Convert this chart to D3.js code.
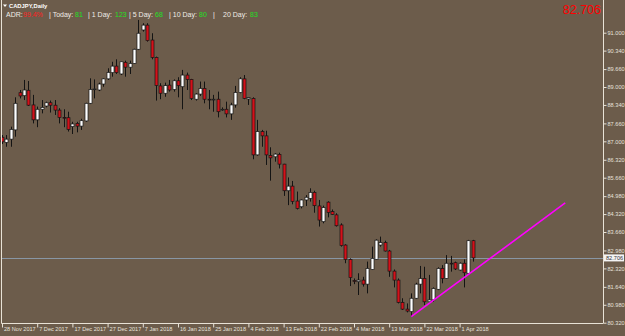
<!DOCTYPE html>
<html>
<head>
<meta charset="utf-8">
<script src="https://cdnjs.cloudflare.com/ajax/libs/d3/7.8.5/d3.min.js"></script>
<style>
  body { margin: 0; background: #6c5c4b; }
  svg { display: block; }
  .axis text { fill: #e6e2dc; font-family: "Liberation Sans", Arial, sans-serif; font-size: 5.6px; }
  .axis line, .axis path { stroke: #e8e2d6; }
</style>
</head>
<body>
<div></div>
<script>
// daily bars CADJPY
var opens = [87.15,86.96,87.08,87.42,88.79,88.68,88.88,88.34,87.79,88.18,88.30,88.42,88.33,88.15,87.88,87.87,87.54,87.66,87.56,87.75,
  88.40,88.91,88.89,89.11,89.30,89.53,89.77,89.48,89.91,89.73,89.87,90.39,91.10,91.28,90.73,90.09,89.04,88.77,89.07,88.91,
  89.23,89.01,89.44,89.28,88.55,88.74,88.95,88.55,88.54,88.55,88.16,88.18,88.01,88.34,88.80,89.30,88.56,88.58,86.50,87.36,
  87.20,86.48,86.43,86.52,86.16,85.18,85.35,84.80,84.59,84.84,84.90,85.12,84.62,84.04,84.76,84.41,84.29,83.92,83.18,82.65,
  81.87,81.83,81.89,81.74,82.28,82.65,83.18,83.27,82.96,82.22,81.89,81.07,80.82,80.73,81.22,81.74,81.95,81.09,81.16,81.55,
  82.32,81.95,82.51,82.53,82.26,82.51,82.14,83.34];
var highs = [87.23,87.23,87.54,88.62,88.89,89.26,89.22,88.71,88.28,88.52,88.46,88.50,88.52,88.22,88.18,88.09,87.72,87.72,87.83,88.42,
  89.32,89.28,89.16,89.32,89.69,89.93,90.02,89.93,89.97,89.97,90.41,91.47,91.35,91.35,90.98,90.12,89.14,89.16,89.26,89.28,
  89.36,89.63,89.53,89.30,88.77,89.20,89.20,88.89,88.71,88.83,88.25,88.46,88.42,89.04,89.36,89.44,88.63,88.62,87.79,87.42,
  87.39,86.78,86.56,86.58,86.17,85.67,85.54,85.15,84.86,85.02,85.27,85.18,84.84,84.63,84.79,84.49,84.35,83.98,83.21,82.69,
  81.95,82.14,82.01,82.57,83.12,83.39,83.49,83.34,83.00,82.28,81.95,81.22,81.03,81.40,81.79,82.41,82.38,82.08,81.62,82.36,
  82.44,82.81,82.78,82.57,82.54,82.65,83.37,83.37];
var lows = [86.90,86.80,86.80,87.17,88.58,88.52,88.30,87.66,87.52,88.03,88.25,88.06,87.97,87.66,87.52,87.36,87.27,87.33,87.42,87.72,
  88.37,88.58,88.85,89.01,89.26,89.38,89.48,89.44,89.38,89.48,89.85,90.36,91.04,90.67,90.02,88.50,88.55,88.64,88.83,88.83,
  88.62,88.18,88.89,88.52,88.50,88.67,88.40,88.18,88.09,87.88,88.12,87.88,87.79,88.24,88.77,88.55,88.34,86.34,86.47,86.80,
  86.13,85.55,86.25,86.00,84.99,84.65,84.68,84.49,84.53,84.62,84.78,84.37,83.86,83.98,84.20,84.29,83.86,83.12,82.51,81.67,
  81.74,81.34,81.65,81.40,82.26,82.63,83.12,82.94,82.01,81.62,81.03,80.79,80.70,80.54,81.19,81.40,80.97,81.03,81.09,81.52,
  81.77,81.93,82.20,82.26,82.24,81.62,82.11,82.57];
var closes = [86.98,87.08,87.44,88.40,88.67,88.89,88.33,87.79,88.18,88.25,88.42,88.33,88.15,87.88,87.87,87.44,87.64,87.56,87.76,88.40,
  88.91,88.93,89.11,89.30,89.54,89.77,89.53,89.93,89.73,89.87,90.39,90.98,91.28,90.71,90.09,89.06,88.77,89.05,88.89,89.23,
  89.05,89.44,89.28,88.58,88.74,88.95,88.55,88.54,88.55,88.09,88.18,88.01,88.34,88.80,89.30,88.58,88.61,86.50,87.36,87.20,
  86.50,86.39,86.53,86.16,85.18,85.35,84.79,84.53,84.84,84.94,85.12,84.63,84.10,84.56,84.38,84.31,83.89,83.16,82.65,81.98,
  81.86,81.89,81.74,82.32,82.69,83.36,83.27,82.96,82.22,81.89,81.07,80.82,80.75,81.22,81.74,81.95,81.09,81.16,81.58,82.32,
  81.95,82.51,82.50,82.30,82.51,82.16,83.34,82.706];

var dateLabels = ["28 Nov 2017","7 Dec 2017","17 Dec 2017","27 Dec 2017","7 Jan 2018","16 Jan 2018","25 Jan 2018",
  "4 Feb 2018","13 Feb 2018","22 Feb 2018","4 Mar 2018","13 Mar 2018","22 Mar 2018","1 Apr 2018"];
var dateBars = [1,9,17,25,33,41,49,57,65,73,81,89,97,105];
var priceTicks = [91.000,90.340,89.660,89.000,88.340,87.660,87.000,86.320,85.660,84.980,84.320,83.660,82.980,82.320,81.640,80.980,80.320];
var trendBars = [94, 129];
var trendPrices = [80.54, 84.73];
var lastPrice = 82.706;

var width = 625, height = 336;
var frame = {left: 1, right: 603, bottom: 323};

var bars = closes.map(function(c, i) {
  return {i: i + 1, o: opens[i], h: highs[i], l: lows[i], c: c};
});

// set the ranges
var x = d3.scaleLinear().domain([1, 108]).range([2, 2 + 4.4 * 107]);
var y = d3.scaleLinear().domain([80.32, 91.0]).range([322.7, 32.7]);

var svg = d3.select("body").select("div").append("svg")
    .attr("width", width)
    .attr("height", height);

svg.append("rect").attr("width", width).attr("height", height).attr("fill", "#6c5c4b");

// last price line
svg.append("line")
    .attr("x1", frame.left).attr("x2", frame.right)
    .attr("y1", Math.round(y(lastPrice)) + 0.5).attr("y2", Math.round(y(lastPrice)) + 0.5)
    .attr("stroke", "#8896a4").attr("stroke-width", 1);

// candles
var candle = svg.append("g").selectAll("g")
    .data(bars)
  .enter().append("g");

candle.append("line")
    .attr("x1", function(d) { return Math.round(x(d.i)) + 0.5; })
    .attr("x2", function(d) { return Math.round(x(d.i)) + 0.5; })
    .attr("y1", function(d) { return y(d.h); })
    .attr("y2", function(d) { return y(d.l); })
    .attr("stroke", "#141414").attr("stroke-width", 1);

candle.append("rect")
    .attr("x", function(d) { return Math.round(x(d.i)) - 1; })
    .attr("width", 3)
    .attr("y", function(d) { return y(Math.max(d.o, d.c)); })
    .attr("height", function(d) { return Math.max(0.8, Math.abs(y(d.o) - y(d.c))); })
    .attr("fill", function(d) { return d.c >= d.o ? "#ffffff" : "#d4111a"; })
    .attr("stroke", "#141414").attr("stroke-width", 0.7);

// trend line
var trend = d3.line()
    .x(function(d) { return x(d[0]); })
    .y(function(d) { return y(d[1]); });
svg.append("path")
    .datum(trendBars.map(function(b, k) { return [b, trendPrices[k]]; }))
    .attr("d", trend)
    .attr("fill", "none")
    .attr("stroke", "#ff00ff")
    .attr("stroke-width", 1.6);

// frame left + bottom
svg.append("path")
    .attr("d", "M" + (frame.left + 0.5) + ",0V" + (frame.bottom + 0.5) + "H" + frame.right)
    .attr("fill", "none").attr("stroke", "#e8e2d6");

// price axis
var yAxis = svg.append("g")
    .attr("class", "axis")
    .attr("transform", "translate(" + (frame.right + 0.5) + ",0)")
    .call(d3.axisRight(y).tickValues(priceTicks).tickFormat(d3.format(".3f")).tickSize(3).tickPadding(1));
yAxis.select(".domain").attr("d", "M0,0V" + (frame.bottom + 0.5));

// date axis
var xAxis = svg.append("g")
    .attr("class", "axis")
    .attr("transform", "translate(0," + (frame.bottom + 0.5) + ")")
    .call(d3.axisBottom(x).tickValues(dateBars).tickFormat(function(d, k) { return dateLabels[k]; }).tickSize(4));
xAxis.select(".domain").remove();
xAxis.selectAll(".tick text")
    .attr("text-anchor", "start")
    .attr("x", 1.5).attr("dy", "0.5em").attr("y", 5);

// last price label box
var lp = svg.append("g").attr("transform", "translate(" + (frame.right + 1) + "," + y(lastPrice) + ")");
lp.append("rect").attr("x", 0).attr("y", -3.5).attr("width", 20).attr("height", 7).attr("fill", "#f4f4f4");
lp.append("text").attr("x", 2).attr("y", 2).text(lastPrice.toFixed(3))
    .attr("font-family", "Liberation Sans, Arial, sans-serif").attr("font-size", "5.6px").attr("fill", "#333");

// header
svg.append("path").attr("d", "M3,4.5h4l-2,2.6z").attr("fill", "#ffffff");
svg.append("text").attr("x", 9).attr("y", 8)
    .attr("font-family", "Liberation Sans, Arial, sans-serif").attr("font-size", "5.8px")
    .attr("font-weight", "bold").attr("fill", "#ffffff").text("CADJPY,Daily");

var adrParts = [
  {x: 6, t: "ADR:", c: "#f0ece6"}, {x: 23, t: "99.4%", c: "#ff2020"},
  {x: 49, t: "| Today:", c: "#f0ece6"}, {x: 75, t: "81", c: "#22e022"},
  {x: 88, t: "| 1 Day:", c: "#f0ece6"}, {x: 115, t: "123", c: "#22e022"},
  {x: 129, t: "| 5 Day:", c: "#f0ece6"}, {x: 155, t: "68", c: "#22e022"},
  {x: 169, t: "| 10 Day:", c: "#f0ece6"}, {x: 199, t: "80", c: "#22e022"},
  {x: 213, t: "|", c: "#f0ece6"}, {x: 223, t: "20 Day:", c: "#f0ece6"}, {x: 250, t: "83", c: "#22e022"}
];
svg.append("g").selectAll("text")
    .data(adrParts)
  .enter().append("text")
    .attr("x", function(d) { return d.x; })
    .attr("y", 16.8)
    .attr("font-family", "Liberation Sans, Arial, sans-serif")
    .attr("font-size", "7px")
    .attr("fill", function(d) { return d.c; })
    .text(function(d) { return d.t; });

// big price top right
svg.append("text")
    .attr("x", 601).attr("y", 14)
    .attr("text-anchor", "end")
    .attr("font-family", "Liberation Sans, Arial, sans-serif")
    .attr("font-size", "12.5px")
    .attr("fill", "#ff0000")
    .text(lastPrice.toFixed(3));
</script>
</body>
</html>
